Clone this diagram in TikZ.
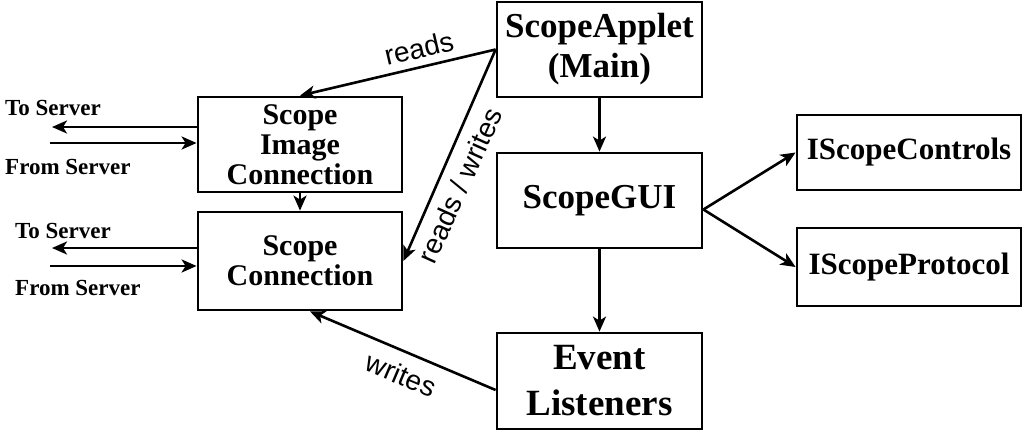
\documentclass[tikz,border=0pt]{standalone}
\usepackage{fontspec}
\setmainfont{Liberation Serif}
\setsansfont{Liberation Sans}
\usetikzlibrary{arrows.meta,calc,positioning}
\tikzset{mainbox/.style={draw,line width=2.8pt,minimum width=205pt,minimum height=95pt,inner sep=2pt,align=center,font=\fontsize{35}{40}\selectfont\bfseries},connbox/.style={draw,line width=2.8pt,minimum width=204pt,inner sep=2pt,align=center,font=\fontsize{30}{30}\selectfont\bfseries},ifacebox/.style={draw,line width=2.8pt,minimum width=224pt,inner sep=2pt,font=\fontsize{31}{36}\selectfont\bfseries},flow/.style={line width=2.6pt,-{Stealth[length=15pt,width=13pt,inset=4pt]}},edgelabel/.style={font=\fontsize{28}{32}\selectfont\sffamily},serverlabel/.style={font=\fontsize{23}{26}\selectfont\bfseries,anchor=west,inner sep=0pt}}

\begin{document}
\begin{tikzpicture}[x=1pt,y=-1pt]
\useasboundingbox (0,0) rectangle (1024,431);
\node[mainbox] (applet) at (599.5,49.5) {ScopeApplet\\(Main)};
\node[mainbox] (gui) at (599.5,200.5) {ScopeGUI};
\node[mainbox,minimum height=96pt,font=\fontsize{37}{46}\selectfont\bfseries] (listeners) at (599.5,381) {Event\\Listeners};
\node[connbox,minimum height=95pt] (imgconn) at (300,144.5) {Scope\\Image\\Connection};
\node[connbox,minimum height=98pt] (conn) at (300,261) {Scope\\Connection};
\node[ifacebox,minimum height=75pt] (controls) at (909,152.5) {IScopeControls};
\node[ifacebox,minimum height=78pt] (protocol) at (909,267) {IScopeProtocol};
% server side
\node[serverlabel] (toA) at (5,108) {To Server};
\node[serverlabel] (fromA) at (5,167) {From Server};
\node[serverlabel] (toB) at (15,231) {To Server};
\node[serverlabel] (fromB) at (15,288) {From Server};
\coordinate (tosrvA) at (52,127);
\coordinate (fromsrvA) at (50,143);
\coordinate (tosrvB) at (52,248);
\coordinate (fromsrvB) at (50,266);
\draw[flow] (imgconn.west |- tosrvA) -- (tosrvA);
\draw[flow] (fromsrvA) -- (imgconn.west |- fromsrvA);
\draw[flow] (conn.west |- tosrvB) -- (tosrvB);
\draw[flow] (fromsrvB) -- (conn.west |- fromsrvB);
% connections
\draw[flow] (imgconn) -- (conn);
\draw[flow] (applet) -- (gui);
\draw[flow] (gui) -- (listeners);
\draw[flow] (applet.west) -- node[edgelabel,sloped,above=4pt,pos=0.37] {reads} (imgconn.north);
\draw[flow] (applet.west) -- node[edgelabel,rotate=65.8,anchor=north,inner sep=10pt,pos=0.6] {reads / writes} (conn.east);
\draw[flow] ($(listeners.west)+(0,9)$) -- node[edgelabel,sloped,below=8pt,pos=0.46] {writes} ($(conn.south)+(10,0)$);
\draw[flow] ($(gui.east)+(0,9)$) -- (controls.west);
\draw[flow] ($(gui.east)+(0,9)$) -- (protocol.west);
\end{tikzpicture}
\end{document}
